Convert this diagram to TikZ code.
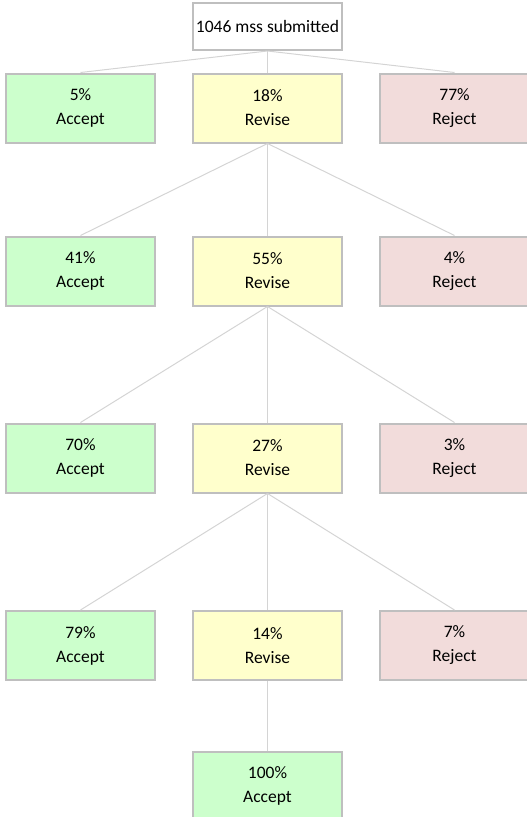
\documentclass[tikz,border=0pt]{standalone}
\usepackage{fontspec}
\setmainfont{Carlito}
\definecolor{accfill}{HTML}{CCFFCC}
\definecolor{revfill}{HTML}{FFFFCC}
\definecolor{rejfill}{HTML}{F2DCDB}
\definecolor{boxline}{HTML}{BFBFBF}
\definecolor{linkline}{HTML}{D4D4D4}
\tikzset{
  box/.style={draw=boxline, line width=2pt, rectangle, minimum width=149pt, minimum height=69pt,
    align=center, font=\fontsize{17.5}{24}\selectfont, inner sep=0pt},
  acc/.style={box, fill=accfill, execute at begin node={\rule{0pt}{17pt}}},
  rev/.style={box, fill=revfill, execute at begin node={\rule{0pt}{17pt}}},
  rej/.style={box, fill=rejfill, execute at begin node={\rule{0pt}{17pt}}},
  topbox/.style={box, fill=white, minimum height=47pt},
  link/.style={draw=linkline, line width=1pt}
}
\begin{document}
\begin{tikzpicture}[x=1pt,y=-1pt]
\useasboundingbox (0,0) rectangle (527,817);
\clip (0,0) rectangle (527,817);
\node[topbox] (top) at (267.5,26.5) {1046 mss submitted};
\node[acc] (a1) at (80.5,108) {5\%\\Accept};
\node[rev] (r1) at (267.5,108) {18\%\\Revise};
\node[rej] (j1) at (454.5,108) {77\%\\Reject};
\node[acc] (a2) at (80.5,271) {41\%\\Accept};
\node[rev] (r2) at (267.5,271) {55\%\\Revise};
\node[rej] (j2) at (454.5,271) {4\%\\Reject};
\node[acc] (a3) at (80.5,458) {70\%\\Accept};
\node[rev] (r3) at (267.5,458) {27\%\\Revise};
\node[rej] (j3) at (454.5,458) {3\%\\Reject};
\node[acc] (a4) at (80.5,645.5) {79\%\\Accept};
\node[rev] (r4) at (267.5,645.5) {14\%\\Revise};
\node[rej] (j4) at (454.5,645.5) {7\%\\Reject};
\node[acc] (a5) at (267.5,786) {100\%\\Accept};
\foreach \p/\c in {top/a1,top/r1,top/j1,r1/a2,r1/r2,r1/j2,r2/a3,r2/r3,r2/j3,r3/a4,r3/r4,r3/j4,r4/a5}
  \draw[link] (\p.south) -- (\c.north);
\end{tikzpicture}
\end{document}
